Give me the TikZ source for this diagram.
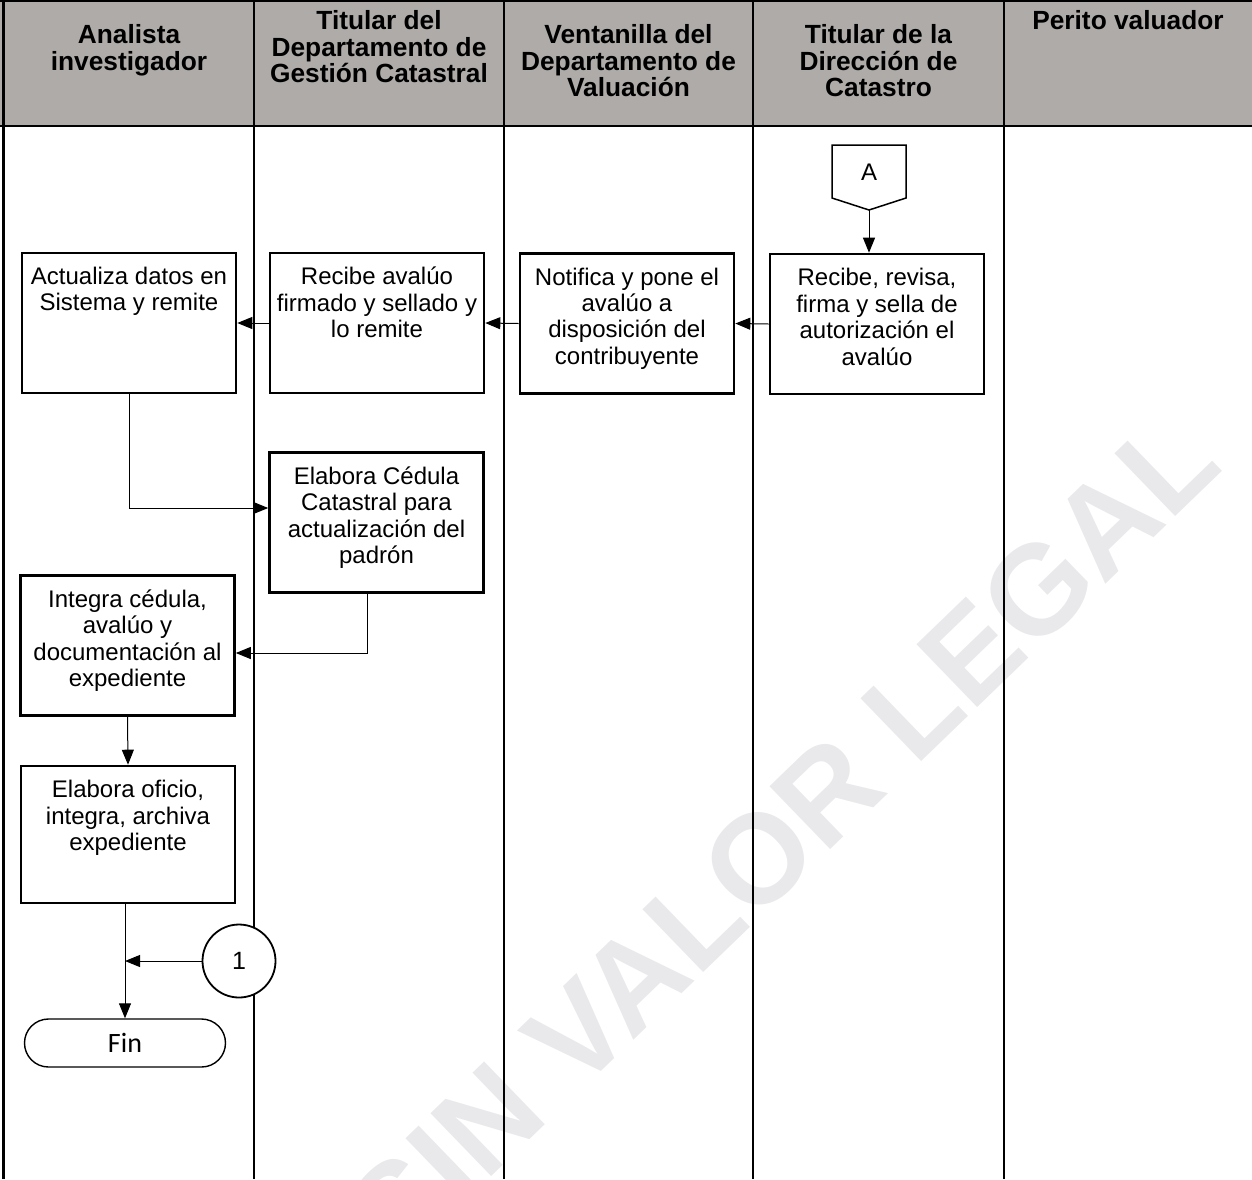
\documentclass[tikz,border=0pt]{standalone}
\usepackage{fontspec}
\setmainfont{Liberation Sans}
\newfontfamily\calfont{Carlito}
\usetikzlibrary{arrows.meta,shapes.misc}

\definecolor{hdrgray}{RGB}{175,171,169}
\definecolor{wmgray}{RGB}{233,233,236}

\begin{document}
\begin{tikzpicture}[x=0.5pt,y=-0.5pt,
  lane/.style={line width=1.2pt},
  stepbox/.style={draw, line width=1.3pt, fill=white, minimum width=107pt,
    minimum height=70pt, inner sep=0pt},
  steptxt/.style={anchor=north, align=center, inner sep=0pt,
    font=\fontsize{12pt}{13.25pt}\selectfont, execute at begin node=\strut},
  hdr/.style={anchor=north, align=center, inner sep=0pt,
    font=\fontsize{13.15pt}{13.35pt}\selectfont\bfseries, execute at begin node=\strut},
  flow/.style={line width=0.5pt, -{Triangle[length=7.5pt,width=6pt]}},
]
\useasboundingbox (0,0) rectangle (1252,1179);

% watermark
\node[rotate=44, text=wmgray, inner sep=0pt,
  font=\fontsize{63.5pt}{70pt}\selectfont\bfseries] (wm) at (782,836) {SIN VALOR LEGAL};

% header band and lanes
\fill[hdrgray] (0,0) rectangle (1252,126);
\draw[line width=1pt] (0,1) -- (1252,1);
\draw[line width=1.35pt] (0,126) -- (1252,126);
\foreach \lx in {3.5,254,504,753,1004}
  \draw[lane] (\lx,0) -- (\lx,1179);

% lane titles
\node[hdr] (h1) at (129,24) {Analista\\investigador};
\node[hdr] (h2) at (379,10) {Titular del\\Departamento de\\Gestión Catastral};
\node[hdr] (h3) at (628.5,24) {Ventanilla del\\Departamento de\\Valuación};
\node[hdr] (h4) at (878.5,24) {Titular de la\\Dirección de\\Catastro};
\node[hdr] (h5) at (1128,10) {Perito valuador};

% off-page connector A
\draw[line width=0.75pt, fill=white] (832,145) -- (906,145) -- (906,198) -- (869,210) -- (832,198) -- cycle;
\node[inner sep=0pt, font=\fontsize{12pt}{13.25pt}\selectfont] (offA) at (869,172) {A};
\coordinate (offAtip) at (869,210);

% process steps
\node[stepbox] (act) at (129,323) {};
\node[stepbox] (rav) at (377,323) {};
\node[stepbox] (noti) at (627,323.5) {};
\node[stepbox] (rrev) at (877,324) {};
\node[stepbox] (ced) at (376.5,522.5) {};
\node[stepbox] (integ) at (127.5,645.5) {};
\node[stepbox, minimum height=68.5pt] (ofic) at (128,834.5) {};

\node[steptxt] (actT) at ([yshift=-7.5pt]act.north) {Actualiza datos en\\Sistema y remite};
\node[steptxt] (ravT) at ([yshift=-7.5pt]rav.north) {Recibe avalúo\\firmado y sellado y\\lo remite};
\node[steptxt] (notiT) at ([yshift=-7.5pt]noti.north) {Notifica y pone el\\avalúo a\\disposición del\\contribuyente};
\node[steptxt] (rrevT) at ([yshift=-7.5pt]rrev.north) {Recibe, revisa,\\firma y sella de\\autorización el\\avalúo};
\node[steptxt] (cedT) at ([yshift=-7.5pt]ced.north) {Elabora Cédula\\Catastral para\\actualización del\\padrón};
\node[steptxt] (integT) at ([yshift=-7.5pt]integ.north) {Integra cédula,\\avalúo y\\documentación al\\expediente};
\node[steptxt] (oficT) at ([yshift=-7.5pt]ofic.north) {Elabora oficio,\\integra, archiva\\expediente};

% on-page connector and terminator
\node[circle, draw, line width=0.9pt, fill=white, minimum size=36.5pt, inner sep=0pt,
  font=\fontsize{12.5pt}{13.25pt}\selectfont] (c1) at (239,961) {1};
\node[rounded rectangle, draw, line width=0.7pt, fill=white, minimum width=100.5pt,
  minimum height=24pt, inner sep=0pt, font=\calfont\fontsize{14pt}{16pt}\selectfont] (fin) at (125,1043) {Fin};

% flow
\draw[flow] (offAtip) -- (offAtip |- rrev.north);
\draw[flow] (rrev.west) -- (noti.east);
\draw[flow] (noti.west) -- (rav.east);
\draw[flow] (rav.west) -- (act.east);
\draw[flow] (act.south) |- ([yshift=7.25pt]ced.west);
\draw[flow] ([xshift=-4.75pt]ced.south) |- ([yshift=-3.75pt]integ.east);
\draw[flow] (integ.south) -- (ofic.north);
\draw[flow] (ofic.south -| fin.north) -- (fin.north);
\draw[flow] (c1.west) -- (c1.west -| fin.north);
\end{tikzpicture}
\end{document}
